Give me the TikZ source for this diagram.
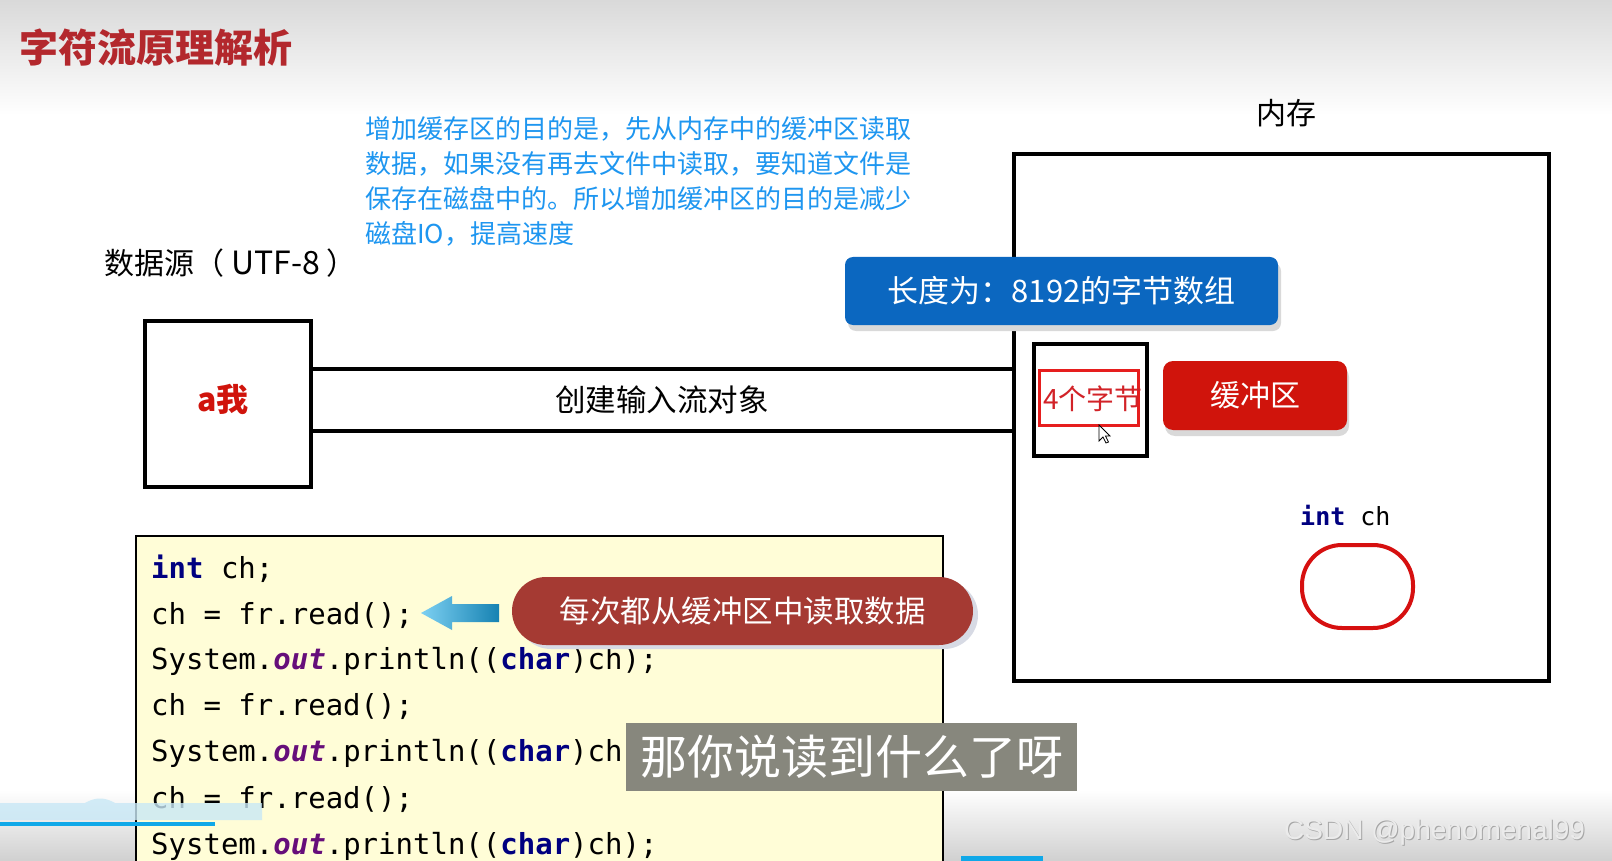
\documentclass[tikz,border=0pt]{standalone}
\usepackage{fontspec}
\setmainfont{Noto Sans CJK SC}
\newfontfamily\codefont{DejaVu Sans Mono}
\newfontfamily\wmfont{Liberation Sans}
\usetikzlibrary{shapes.geometric}
\definecolor{titlered}{RGB}{179,40,45}
\definecolor{textblue}{RGB}{30,150,240}
\definecolor{boxblue}{RGB}{11,103,192}
\definecolor{bufred}{RGB}{208,20,12}
\definecolor{pillred}{RGB}{165,58,51}
\definecolor{arrowL}{RGB}{125,208,242}
\definecolor{arrowR}{RGB}{22,130,178}
\definecolor{codeyellow}{RGB}{255,253,215}
\definecolor{kwnavy}{RGB}{0,0,128}
\definecolor{outpurple}{RGB}{102,14,122}
\definecolor{subgray}{RGB}{135,135,125}
\definecolor{bgtop}{RGB}{217,217,217}
\definecolor{bgbot}{RGB}{208,208,208}
\definecolor{bandblue}{RGB}{200,232,246}
\definecolor{barblue}{RGB}{16,168,232}
\definecolor{ovalred}{RGB}{214,16,16}
\definecolor{pillshadow}{RGB}{215,218,228}
\newcommand{\mykw}[1]{{\bfseries\color{kwnavy}#1}}
\newcommand{\myout}[1]{{\bfseries\itshape\color{outpurple}#1}}
\tikzset{
  lbl/.style={inner sep=0pt, font=\fontsize{30}{34}\selectfont},
  bluetext/.style={inner sep=0pt, anchor=west, text=textblue, font=\fontsize{26}{35}\selectfont},
  codeline/.style={inner sep=0pt, anchor=west, font=\codefont\fontsize{29}{35}\selectfont},
  blackbox/.style={draw=black, line width=4pt},
  pipe/.style={draw=black, line width=4pt},
  shadowbox/.style={fill=black!15, draw=none},
}
\begin{document}
\begin{tikzpicture}[x=1pt,y=-1pt]
\useasboundingbox (0,0) rectangle (1612,861);
\fill[white] (0,0) rectangle (1612,861);
% background gradients
\shade[top color=bgtop, bottom color=white] (0,0) rectangle (1612,115);
\shade[top color=white, bottom color=bgbot] (0,790) rectangle (1612,861);

% title
\node[inner sep=0pt, anchor=west, text=titlered, font=\bfseries\fontsize{39}{44}\selectfont] (title) at (19,48) {字符流原理解析};

% blue explanation text
\node[bluetext] (b1) at (365,128.5) {增加缓存区的目的是，先从内存中的缓冲区读取};
\node[bluetext] (b2) at (365,163.5) {数据，如果没有再去文件中读取，要知道文件是};
\node[bluetext] (b3) at (365,198.5) {保存在磁盘中的。所以增加缓冲区的目的是减少};
\node[bluetext] (b4) at (365,233.5) {磁盘IO，提高速度};

% labels
\node[lbl, anchor=west] (srclbl) at (104,263) {数据源（\hspace{7pt}{\fontsize{32}{34}\selectfont UTF-8}\hspace{7pt}）};
\node[lbl] (memlbl) at (1286,113) {内存};

% memory box
\node[draw=black, line width=3.5pt, minimum width=535pt, minimum height=527pt, inner sep=0pt] (mem) at (1281.5,417.5) {};

% source box
\node[blackbox, minimum width=166pt, minimum height=166pt, inner sep=0pt] (src) at (228,404) {};
\node[inner sep=0pt, text=bufred, font=\bfseries\fontsize{32}{36}\selectfont] (aw) at (223,399) {a我};

% pipe
\coordinate (p1) at (0,369);
\coordinate (p2) at (0,431);
\draw[pipe] (src.east |- p1) -- (mem.west |- p1);
\draw[pipe] (src.east |- p2) -- (mem.west |- p2);
\node[lbl, font=\fontsize{30.5}{34}\selectfont] (pipelbl) at (662,400) {创建输入流对象};

% blue byte-array box
\fill[shadowbox, rounded corners=8pt] (848,263) rectangle (1281,331);
\node[fill=boxblue, rounded corners=8pt, minimum width=433pt, minimum height=68pt, inner sep=0pt, text=white, font=\fontsize{31}{34}\selectfont] (arr) at (1061.5,291) {长度为：8192的字节数组};

% small box with 4 bytes
\node[blackbox, minimum width=113pt, minimum height=112pt, inner sep=0pt] (small) at (1090.5,400) {};
\node[draw={rgb,255:red,230;green,30;blue,30}, line width=3pt, minimum width=99pt, minimum height=55pt, inner sep=0pt] (four) at (1088.5,397.5) {};
\begin{scope}
  \clip (1030,368) rectangle (1140,427);
  \node[inner sep=0pt, anchor=west, text={rgb,255:red,210;green,35;blue,40}, font=\fontsize{28}{30}\selectfont] (fourtxt) at (1043,399) {4个字节};
\end{scope}
% mouse cursor
\filldraw[fill=white, draw=black, line width=0.8pt] (1099,425) -- (1099,441) -- (1103,437) -- (1106,443) -- (1108.5,442) -- (1105.5,436) -- (1110,436) -- cycle;

% buffer box
\fill[shadowbox, rounded corners=10pt] (1165,367) rectangle (1349,436);
\node[fill=bufred, rounded corners=10pt, minimum width=184pt, minimum height=69pt, inner sep=0pt, text=white, font=\fontsize{30}{34}\selectfont] (buf) at (1255,395.5) {缓冲区};

% int ch variable
\node[inner sep=0pt, anchor=west, font=\codefont\fontsize{25}{30}\selectfont] (var) at (1300,516) {\mykw{int} ch};
\node[draw=ovalred, line width=4pt, rounded corners=40pt, minimum width=111pt, minimum height=83pt, inner sep=0pt] (oval) at (1357.5,586.5) {};

% code box
\node[draw=black, line width=2pt, fill=codeyellow, minimum width=807pt, minimum height=364pt, inner sep=0pt] (code) at (539.5,718) {};
\node[codeline] (c1) at (151,569) {\mykw{int} ch;};
\node[codeline] (c2) at (151,616) {ch = fr.read();};
\node[codeline] (c3) at (151,661) {System.\myout{out}.println((\mykw{char})ch);};
\node[codeline] (c4) at (151,707) {ch = fr.read();};
\node[codeline] (c5) at (151,753) {System.\myout{out}.println((\mykw{char})ch);};
\node[codeline] (c6) at (151,800) {ch = fr.read();};
\node[codeline] (c7) at (151,846) {System.\myout{out}.println((\mykw{char})ch);};

% left arrow
\shade[left color=arrowL, right color=arrowR] (421,613) -- (452,596) -- (452,604) -- (499,604) -- (499,622) -- (452,622) -- (452,630) -- cycle;

% pill
\fill[pillshadow, rounded corners=34pt] (517,581) rectangle (978,649);
\node[fill=pillred, rounded corners=34pt, minimum width=461pt, minimum height=68pt, inner sep=0pt, text=white, font=\fontsize{30.5}{34}\selectfont] (pill) at (742.5,611) {每次都从缓冲区中读取数据};

% subtitle overlay
\node[fill=subgray, minimum width=451pt, minimum height=68pt, inner sep=0pt, text=white, font=\fontsize{47}{50}\selectfont] (sub) at (851.5,757) {那你说读到什么了呀};

% progress bar remnants
\fill[bandblue, opacity=0.8] (0,803) -- (85,803) .. controls (95,797) and (105,797) .. (115,803) -- (262,803) -- (262,820) -- (0,820) -- cycle;
\fill[barblue] (0,822) rectangle (215,826);
\fill[barblue] (961,856) rectangle (1043,861);

% watermark
\node[inner sep=0pt, anchor=west, text=black!35, font=\wmfont\fontsize{28}{32}\selectfont] (wm2) at (1285,833) {CSDN @phenomenal99};
\node[inner sep=0pt, anchor=west, text=black!8, font=\wmfont\fontsize{28}{32}\selectfont] (wm) at (1284,832) {CSDN @phenomenal99};
\end{tikzpicture}
\end{document}
